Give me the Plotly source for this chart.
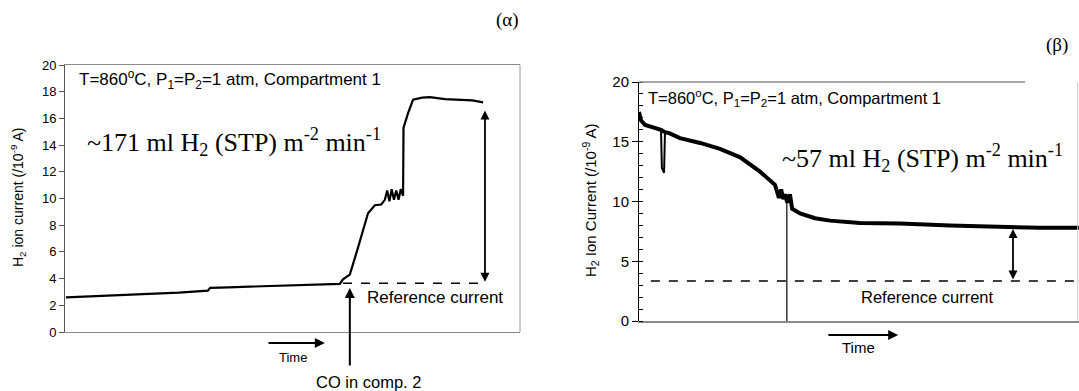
import plotly.graph_objects as go

# ---------------- data ----------------
# Panel (α): H2 ion current vs time (arbitrary time units 0-100)
left_time = [0.2, 4, 7.7, 12, 18.7, 25, 31.4, 31.9, 36, 40.7, 46, 51.6, 56, 60.4,
             61.1, 62.6, 64.2, 65.3, 66.6, 68.1, 69.5, 70.3, 70.8, 71.3, 71.8, 72.3,
             72.8, 73.3, 73.8, 74.3, 74.4, 75.4, 76.5, 78.5, 80.2, 83.5, 86.8, 89.5, 91.9]
left_current = [2.6, 2.65, 2.7, 2.78, 2.85, 2.95, 3.1, 3.3, 3.35, 3.4, 3.47, 3.55, 3.58, 3.6,
                3.95, 4.3, 6.1, 7.4, 8.9, 9.5, 9.55, 9.9, 10.6, 9.8, 10.7, 9.9, 10.6,
                9.9, 10.7, 10.2, 15.3, 16.4, 17.4, 17.55, 17.6, 17.45, 17.4, 17.35, 17.2]
left_reference = 3.65
left_ref_start, left_ref_end = 61.1, 92.3
left_arrow_top = 16.6

# Panel (β): H2 ion current vs time
right_time = [0, 0.45, 1.4, 3.6, 5.0, 5.9, 7.0, 9.3, 13.9, 18.4, 23.0, 27.5, 30.9,
              31.8, 32.3, 32.8, 33.2, 33.7, 34.3, 34.8, 36.6, 40.0, 43.4, 50.2, 59.3,
              70.7, 82.0, 91.0, 100]
right_current = [17.5, 16.8, 16.4, 16.2, 16.0, 15.8, 15.7, 15.3, 14.9, 14.4, 13.7, 12.5, 11.4,
                 10.3, 11.0, 10.2, 10.6, 9.9, 10.6, 9.4, 9.0, 8.6, 8.4, 8.2, 8.15,
                 8.0, 7.85, 7.8, 7.8]
right_dip_time = [5.0, 5.2, 5.7, 5.9]
right_dip_current = [16.0, 12.8, 12.4, 15.8]
right_drop_time = [33.6, 33.6]
right_drop_current = [10.6, 0]
right_reference = 3.35
right_ref_start, right_ref_end = 2.7, 100
right_arrow_x, right_arrow_top = 85, 7.7
left_arrow_x = 92.3

left_ticks = [0, 2, 4, 6, 8, 10, 12, 14, 16, 18, 20]
right_ticks = [0, 5, 10, 15, 20]

SANS = "Liberation Sans, Arial, sans-serif"
SERIF = "Liberation Serif, Times New Roman, serif"
W, H = 1079, 391

fig = go.Figure()

# panel α
fig.add_trace(go.Scatter(x=left_time, y=left_current, mode="lines",
                         line=dict(color="black", width=2.2), xaxis="x", yaxis="y"))
fig.add_trace(go.Scatter(x=[left_ref_start, left_ref_end], y=[left_reference, left_reference],
                         mode="lines", line=dict(color="black", width=1.5, dash="dash"),
                         xaxis="x", yaxis="y"))
# panel β
fig.add_trace(go.Scatter(x=right_time, y=right_current, mode="lines",
                         line=dict(color="black", width=4), xaxis="x2", yaxis="y2"))
fig.add_trace(go.Scatter(x=right_dip_time, y=right_dip_current, mode="lines",
                         line=dict(color="black", width=2), xaxis="x2", yaxis="y2"))
fig.add_trace(go.Scatter(x=right_drop_time, y=right_drop_current, mode="lines",
                         line=dict(color="black", width=1.2), xaxis="x2", yaxis="y2"))
fig.add_trace(go.Scatter(x=[right_ref_start, right_ref_end], y=[right_reference, right_reference],
                         mode="lines", line=dict(color="black", width=1.5, dash="dash"),
                         xaxis="x2", yaxis="y2"))

fig.update_layout(
    width=W, height=H, margin=dict(l=0, r=0, t=0, b=0, autoexpand=False),
    paper_bgcolor="white", plot_bgcolor="white", showlegend=False,
    font=dict(family=SANS, color="black"),
    xaxis=dict(domain=[65 / W, 520 / W], range=[0, 100], anchor="y", automargin=False,
               showticklabels=False, ticks="", showgrid=False, zeroline=False,
               showline=True, linecolor="#8a8a8a", linewidth=1, mirror=True),
    yaxis=dict(domain=[59 / H, 326 / H], range=[0, 20], anchor="x", automargin=False,
               tickvals=left_ticks, ticks="outside", ticklen=5, tickcolor="#555",
               showgrid=False, zeroline=False, showline=True, linecolor="#555",
               tickfont=dict(size=13, family=SANS)),
    xaxis2=dict(domain=[639 / W, 1.0], range=[0, 100], anchor="y2", automargin=False,
                showticklabels=False, ticks="", showgrid=False, zeroline=False,
                showline=True, linecolor="#8a8a8a", linewidth=2),
    yaxis2=dict(domain=[70 / H, 309 / H], range=[0, 20], anchor="x2", automargin=False,
                tickvals=right_ticks, ticks="outside", ticklen=6, tickcolor="black",
                minor=dict(dtick=1, ticks="inside", ticklen=4, tickcolor="black"),
                showgrid=False, zeroline=False, showline=True, linecolor="black",
                tickfont=dict(size=15, family=SANS)),
)

shapes = [
    dict(type="line", xref="x domain", yref="y domain", x0=1, x1=1, y0=0, y1=1,
         line=dict(color="#9a9a9a", width=1)),
    dict(type="line", xref="x2 domain", yref="y2 domain", x0=0, x1=(1025 - 639) / 440, y0=1, y1=1,
         line=dict(color="#8a8a8a", width=1.5)),
    dict(type="line", xref="x2 domain", yref="y2 domain", x0=0.997, x1=0.997, y0=0, y1=1,
         line=dict(color="#cccccc", width=1)),
]
fig.update_layout(shapes=shapes)


def label(x, y, text, size, family=SANS, xref="paper", yref="paper", xanchor="center", angle=0):
    return dict(x=x, y=y, xref=xref, yref=yref, showarrow=False, text=text,
                xanchor=xanchor, yanchor="middle", textangle=angle,
                font=dict(size=size, family=family, color="black"))


ann = []
ann.append(label(18 / W, (H - 198) / H, "H<sub>2</sub> ion current (/10<sup>-9</sup> A)", 14, angle=-90))
ann.append(label(591 / W, (H - 200) / H, "H<sub>2</sub> Ion Current (/10<sup>-9</sup> A)", 15, angle=-90))
ann.append(label(507 / W, (H - 20) / H, "(α)", 19, SERIF))
ann.append(label(1057 / W, (H - 45) / H, "(β)", 19, SERIF))

cond = "T=860<sup>o</sup>C, P<sub>1</sub>=P<sub>2</sub>=1 atm, Compartment 1"
ann.append(label(2.6, 18.9, cond, 17, SANS, "x", "y", "left"))
ann.append(label(1.6, 18.7, cond, 16.5, SANS, "x2", "y2", "left"))
ann.append(label(4.4, 14.2, "~171 ml H<sub>2</sub> (STP) m<sup>-2</sup> min<sup>-1</sup>",
                 26, SERIF, "x", "y", "left"))
ann.append(label(32, 13.6, "~57 ml H<sub>2</sub> (STP) m<sup>-2</sup> min<sup>-1</sup>",
                 26, SERIF, "x2", "y2", "left"))
ann.append(label(81.3, 2.55, "Reference current", 17, SANS, "x", "y"))
ann.append(label(65.5, 2.0, "Reference current", 16.5, SANS, "x2", "y2"))

# double arrows
ann.append(dict(x=left_arrow_x, y=left_arrow_top, ax=left_arrow_x, ay=left_reference,
                xref="x", yref="y", axref="x", ayref="y", text="", showarrow=True,
                arrowhead=2, startarrowhead=2, arrowside="end+start", arrowwidth=1.8,
                arrowsize=1, startarrowsize=1, arrowcolor="black"))
ann.append(dict(x=right_arrow_x, y=right_arrow_top, ax=right_arrow_x, ay=right_reference,
                xref="x2", yref="y2", axref="x2", ayref="y2", text="", showarrow=True,
                arrowhead=2, startarrowhead=2, arrowside="end+start", arrowwidth=1.8,
                arrowsize=1, startarrowsize=1, arrowcolor="black"))

# time arrows
ann.append(dict(x=0.571, y=-0.041, ax=0.444, ay=-0.041, xref="x domain", yref="y domain",
                axref="x domain", ayref="y domain", text="", showarrow=True,
                arrowhead=2, arrowwidth=2, arrowsize=1, arrowcolor="black"))
ann.append(label(0.50, -0.094, "Time", 13, SANS, "x domain", "y domain"))
ann.append(dict(x=0.589, y=-0.0586, ax=0.427, ay=-0.0586, xref="x2 domain", yref="y2 domain",
                axref="x2 domain", ayref="y2 domain", text="", showarrow=True,
                arrowhead=2, arrowwidth=2, arrowsize=1, arrowcolor="black"))
ann.append(label(0.498, -0.109, "Time", 15, SANS, "x2 domain", "y2 domain"))

# CO arrow
ann.append(dict(x=0.626, y=0.165, ax=0.626, ay=-0.131, xref="x domain", yref="y domain",
                axref="x domain", ayref="y domain", text="", showarrow=True,
                arrowhead=2, arrowwidth=2, arrowsize=1, arrowcolor="black"))
ann.append(label(0.668, -0.187, "CO in comp. 2", 16.5, SANS, "x domain", "y domain"))

fig.update_layout(annotations=ann)
fig.write_html("out.html", config={"displayModeBar": False},
               post_script="document.body.style.margin='0px';document.body.style.overflow='hidden';")
